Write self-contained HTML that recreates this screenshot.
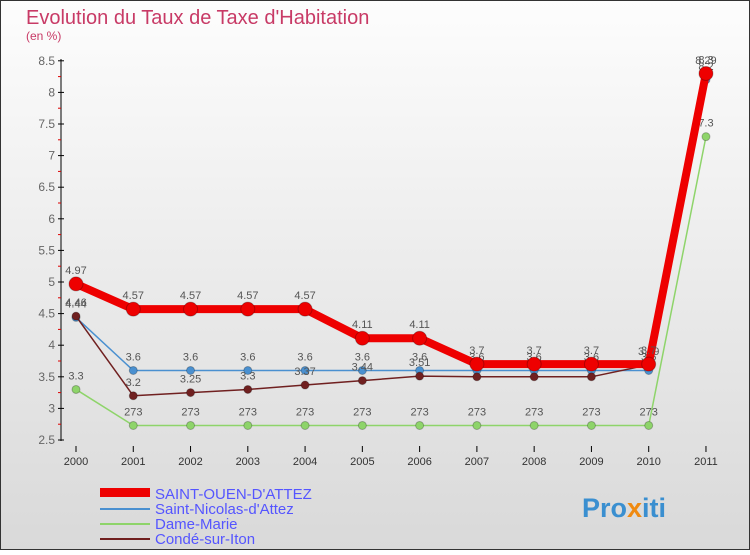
<!DOCTYPE html>
<html><head><meta charset="utf-8"><style>
body{margin:0;width:750px;height:550px;overflow:hidden;font-family:"Liberation Sans",sans-serif}
</style></head><body>
<svg width="750" height="550" xmlns="http://www.w3.org/2000/svg">
<defs><linearGradient id="bg" x1="0" y1="0" x2="0" y2="1"><stop offset="0" stop-color="#fdfdfd"/><stop offset="1" stop-color="#d9d9d9"/></linearGradient></defs>
<rect x="0.5" y="0.5" width="749" height="549" fill="url(#bg)" stroke="#333"/>
<text x="26" y="24" font-size="20" fill="#c83a66" font-weight="normal">Evolution du Taux de Taxe d'Habitation</text>
<text x="26" y="40" font-size="12" fill="#c83a66">(en %)</text>
<g id="axes"></g><g id="series"></g>
<g>
<rect x="100" y="488" width="50" height="9" fill="#e00"/>
<text x="155" y="499" font-size="15" fill="#55f">SAINT-OUEN-D'ATTEZ</text>
<line x1="100" y1="509" x2="150" y2="509" stroke="#4a90d0" stroke-width="2"/>
<text x="155" y="514" font-size="15" fill="#55f">Saint-Nicolas-d'Attez</text>
<line x1="100" y1="524" x2="150" y2="524" stroke="#8ed46a" stroke-width="2"/>
<text x="155" y="529" font-size="15" fill="#55f">Dame-Marie</text>
<line x1="100" y1="539" x2="150" y2="539" stroke="#702020" stroke-width="2"/>
<text x="155" y="544" font-size="15" fill="#55f">Condé-sur-Iton</text>
</g>
<text x="582" y="517" font-size="27" font-weight="bold"><tspan fill="#3a8fd0">Pro</tspan><tspan fill="#f08a10">x</tspan><tspan fill="#3a8fd0">iti</tspan></text>
</svg>
<script>
const years=[2000,2001,2002,2003,2004,2005,2006,2007,2008,2009,2010,2011];
const ouen=[4.97,4.57,4.57,4.57,4.57,4.11,4.11,3.7,3.7,3.7,3.7,8.3];
const nicolas=[4.44,3.6,3.6,3.6,3.6,3.6,3.6,3.6,3.6,3.6,3.6,8.2];
const dame=[3.3,2.73,2.73,2.73,2.73,2.73,2.73,2.73,2.73,2.73,2.73,7.3];
const conde=[4.46,3.2,3.25,3.3,3.37,3.44,3.51,3.5,3.5,3.5,3.69,8.29];
const yTicks=[2.5,3,3.5,4,4.5,5,5.5,6,6.5,7,7.5,8,8.5];
const NS="http://www.w3.org/2000/svg";
const x=i=>76+i*57.27, y=v=>440-(v-2.5)*63.2;
function mk(t,a,p){const e=document.createElementNS(NS,t);for(const k in a)e.setAttribute(k,a[k]);p.appendChild(e);return e;}
const ax=document.getElementById('axes');
const yl=mk('line',{x1:61,y1:59,x2:61,y2:441,stroke:'#000'},ax);


yTicks.forEach(v=>{
 mk('line',{x1:58,y1:y(v),x2:64,y2:y(v),stroke:'#000'},ax);
 if(v<8.5) mk('line',{x1:58,y1:y(v+0.25),x2:61,y2:y(v+0.25),stroke:'#d00'},ax);
 const t=mk('text',{x:55,y:y(v)+4,'font-size':12,'text-anchor':'end',fill:'#666'},ax);t.textContent=v;
 
 
});
years.forEach((yr,i)=>{
 mk('line',{x1:x(i),y1:446,x2:x(i),y2:452,stroke:'#000'},ax);
 const t=mk('text',{x:x(i),y:465,'font-size':11,'text-anchor':'middle',fill:'#333'},ax);t.textContent=yr;
 
 
});
const sg=document.getElementById('series');
function draw(vals,col,w,r,name){
 const g=mk('g',{},sg);
 
 
 mk('polyline',{points:vals.map((v,i)=>x(i)+','+y(v)).join(' '),fill:'none',stroke:col,'stroke-width':w,'stroke-linejoin':'round'},g);
 vals.forEach((v,i)=>{
  const c=mk('circle',{cx:x(i),cy:y(v),r:r,fill:col,stroke:'rgba(0,0,0,0.25)'},g);
  
  
  const t=mk('text',{x:x(i),y:y(v)-10,'font-size':11,'text-anchor':'middle',fill:'#555'},g);
  t.textContent=String(v).replace('2.73','273');
 });
}
draw(dame,'#8ed46a',1.5,4,'series-dame-marie');
draw(nicolas,'#4a90d0',1.5,4,'series-saint-nicolas');
draw(conde,'#702020',1.5,4,'series-conde');
draw(ouen,'#e00',8,7,'series-saint-ouen');
</script>
</body></html>
